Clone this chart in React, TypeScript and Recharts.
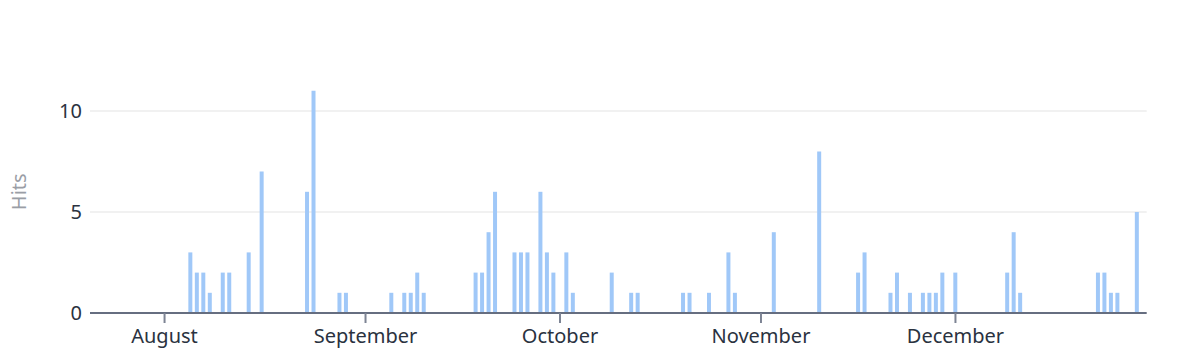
import React from 'react';
import { BarChart, Bar, XAxis, YAxis, CartesianGrid } from 'recharts';

const monthNames = ['January', 'February', 'March', 'April', 'May', 'June', 'July', 'August', 'September', 'October', 'November', 'December'];
const rangeStart = '2024-07-21';
const rangeEnd = '2024-12-30';
const tickDates = ['2024-08-01', '2024-09-01', '2024-10-01', '2024-11-01', '2024-12-01'];
const yTicks = [0, 5, 10];
const gridValues = [5, 10];

const hitDates = [
  '2024-08-05', '2024-08-06', '2024-08-07', '2024-08-08', '2024-08-10', '2024-08-11', '2024-08-14', '2024-08-16',
  '2024-08-23', '2024-08-24', '2024-08-28', '2024-08-29',
  '2024-09-05', '2024-09-07', '2024-09-08', '2024-09-09', '2024-09-10', '2024-09-18', '2024-09-19', '2024-09-20',
  '2024-09-21', '2024-09-24', '2024-09-25', '2024-09-26', '2024-09-28', '2024-09-29', '2024-09-30',
  '2024-10-02', '2024-10-03', '2024-10-09', '2024-10-12', '2024-10-13', '2024-10-20', '2024-10-21', '2024-10-24',
  '2024-10-27', '2024-10-28',
  '2024-11-03', '2024-11-10', '2024-11-16', '2024-11-17', '2024-11-21', '2024-11-22', '2024-11-24', '2024-11-26',
  '2024-11-27', '2024-11-28', '2024-11-29',
  '2024-12-01', '2024-12-09', '2024-12-10', '2024-12-11', '2024-12-23', '2024-12-24', '2024-12-25', '2024-12-26',
  '2024-12-29',
];
const hitCounts = [
  3, 2, 2, 1, 2, 2, 3, 7,
  6, 11, 1, 1,
  1, 1, 1, 2, 1, 2, 2, 4,
  6, 3, 3, 3, 6, 3, 2,
  3, 1, 2, 1, 1, 1, 1, 1,
  3, 1,
  4, 8, 2, 3, 1, 2, 1, 1,
  1, 1, 2,
  2, 2, 4, 1, 2, 2, 1, 1,
  5,
];

function buildDays() {
  const out: { date: string; hits: number }[] = [];
  const start = new Date(rangeStart + 'T00:00:00Z').getTime();
  const end = new Date(rangeEnd + 'T00:00:00Z').getTime();
  for (let t = start; t <= end; t += 86400000) {
    const key = new Date(t).toISOString().slice(0, 10);
    const idx = hitDates.indexOf(key);
    out.push({ date: key, hits: idx >= 0 ? hitCounts[idx] : 0 });
  }
  return out;
}

const data = buildDays();
const monthLabel = (d: string) => monthNames[parseInt(d.slice(5, 7), 10) - 1];

const FONT = 20;

export default function App() {
  return (
    <div style={{ position: 'absolute', left: 0, top: 0, fontFamily: "'Noto Sans', 'Open Sans', sans-serif" }}>
      <BarChart
        width={1178}
        height={358}
        data={data}
        margin={{ top: 70.6, right: 31.3, bottom: 0, left: 0 }}
        barCategoryGap="17%"
      >
        <CartesianGrid vertical={false} horizontalValues={gridValues} stroke="#e3e3e3" strokeWidth={1} />
        <XAxis
          dataKey="date"
          type="category"
          ticks={tickDates}
          interval={0}
          tickFormatter={monthLabel}
          height={45}
          tickSize={10}
          tickMargin={6}
          axisLine={{ stroke: '#666e80', strokeWidth: 2 }}
          tickLine={{ stroke: '#7d8494', strokeWidth: 2 }}
          tick={{ fill: '#2a3240', fontSize: FONT }}
        />
        <YAxis
          type="number"
          domain={[0, 12]}
          ticks={yTicks}
          width={90}
          axisLine={false}
          tickLine={false}
          tickSize={0}
          tickMargin={8}
          tick={{ fill: '#2a3240', fontSize: FONT }}
          label={{
            value: 'Hits',
            angle: -90,
            position: 'insideLeft',
            offset: 19,
            style: { textAnchor: 'middle', fill: '#9a9ea6', fontSize: FONT },
          }}
        />
        <Bar dataKey="hits" fill="#a0c8f8" isAnimationActive={false} />
      </BarChart>
    </div>
  );
}
